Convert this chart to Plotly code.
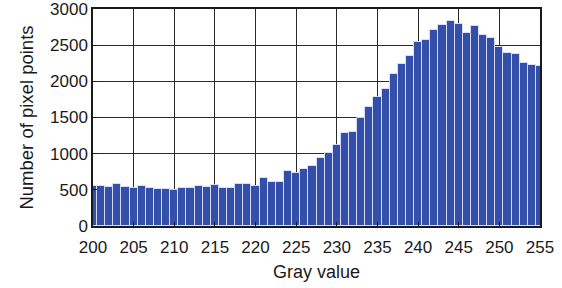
import plotly.graph_objects as go

gray_values = list(range(200, 256))
pixel_counts = [
    550, 555, 545, 580, 545, 525, 555, 525, 505, 505,
    500, 530, 530, 555, 545, 570, 530, 530, 580, 580,
    550, 670, 605, 605, 755, 730, 790, 835, 945, 1005,
    1125, 1280, 1295, 1490, 1640, 1785, 1895, 2095, 2245, 2345,
    2545, 2565, 2705, 2780, 2835, 2795, 2670, 2765, 2635, 2605,
    2475, 2390, 2375, 2260, 2230, 2210,
]
x_ticks = list(range(200, 256, 5))
y_ticks = list(range(0, 3001, 500))

fig = go.Figure(
    go.Bar(
        x=gray_values,
        y=pixel_counts,
        width=1.0,
        marker=dict(color="rgb(51,79,170)",
                    line=dict(color="rgba(225,232,255,0.85)", width=1)),
    )
)

font = dict(family="Liberation Sans, Arial, sans-serif", color="#1a1a1a")

fig.update_layout(
    width=562, height=288,
    margin=dict(l=93, r=22, t=9, b=62),
    paper_bgcolor="white", plot_bgcolor="white",
    showlegend=False,
    bargap=0,
    font=dict(size=17, **font),
)
fig.update_xaxes(
    range=[200, 255], tickvals=x_ticks, ticktext=[str(v) for v in x_ticks],
    showgrid=True, gridcolor="#2a2a2a", gridwidth=1,
    showline=True, linecolor="#1a1a1a", linewidth=1.5, mirror=True,
    ticks="inside", ticklen=4, tickcolor="#1a1a1a",
    tickfont=dict(size=17), zeroline=False, ticklabelstandoff=5,
    title=dict(text="Gray value", font=dict(size=18), standoff=9),
    layer="above traces", automargin=False, ticklabeloverflow="allow",
)
fig.update_yaxes(
    range=[0, 3000], tickvals=y_ticks, ticktext=[str(v) for v in y_ticks],
    showgrid=True, gridcolor="#2a2a2a", gridwidth=1,
    showline=True, linecolor="#1a1a1a", linewidth=1.5, mirror=True,
    ticks="inside", ticklen=4, tickcolor="#1a1a1a",
    tickfont=dict(size=17), zeroline=False,
    title=dict(text="Number of pixel points", font=dict(size=18.5), standoff=12),
    layer="above traces", automargin=False, ticklabeloverflow="allow",
)

fig.write_html("out.html",
               config={"displayModeBar": False},
               post_script="document.body.style.margin='0';document.body.style.padding='0';")
